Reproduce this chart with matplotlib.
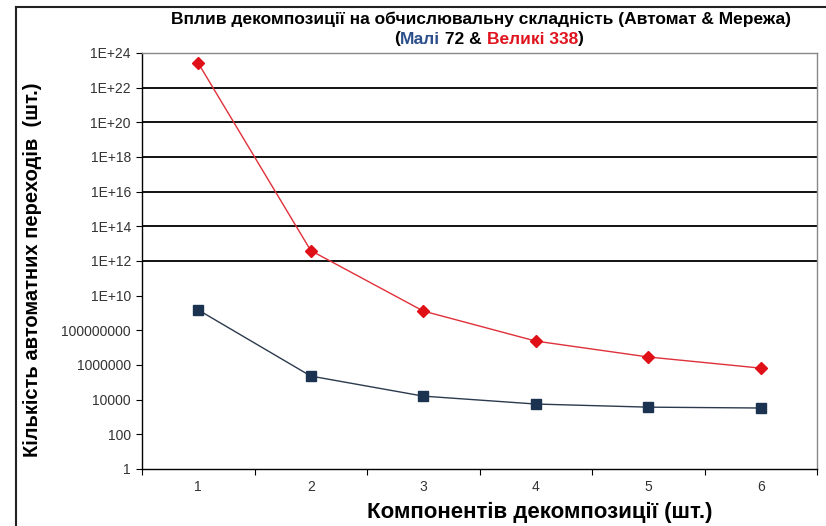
"""Decomposition vs computational complexity chart (log scale)"""

import numpy as np
import matplotlib.pyplot as plt
from matplotlib.lines import Line2D

# Data
components = [1, 2, 3, 4, 5, 6]
small_72 = [1.5e9, 2.3e5, 1.6e4, 5.6e3, 3.7e3, 3.3e3]
large_338 = [2.6e23, 4.0e12, 1.3e9, 2.4e7, 2.9e6, 6.6e5]
ytick_vals = [10.0 ** p for p in range(0, 25, 2)]
ytick_labels = ['1', '100', '10000', '1000000', '100000000',
                '1E+10', '1E+12', '1E+14', '1E+16', '1E+18',
                '1E+20', '1E+22', '1E+24']
grid_levels = [1e12, 1e14, 1e16, 1e18, 1e20, 1e22]

plt.rcParams['font.family'] = ['Liberation Sans', 'DejaVu Sans']

fig = plt.figure(figsize=(8.26, 5.26), dpi=100)
ax = fig.add_axes([142 / 826, 1 - 469 / 526, 675 / 826, 416 / 526])

ax.set_yscale('log')
ax.set_ylim(1, 1e24)
ax.set_xlim(0.5, 6.5)

# Horizontal gridlines (only the upper ones are drawn in the original)
for lvl in grid_levels:
    ax.axhline(lvl, color='#111111', lw=1.4, zorder=1)

ax.plot(components, small_72, color='#2b3a4e', lw=1.0, marker='s',
        ms=7, mfc='#1b3350', mec='#1b3350', zorder=3)
ax.plot(components, large_338, color='#e0303a', lw=1.0, marker='D',
        ms=6, mfc='#e01018', mec='#e01018', zorder=3)

ax.set_yticks(ytick_vals)
ax.set_yticklabels(ytick_labels, fontsize=10, color='#333333')
ax.minorticks_off()
ax.tick_params(axis='y', length=4, width=0.8, pad=4)

# category axis: ticks between categories, labels centred
ax.set_xticks(np.arange(0.5, 7.0, 1.0))
ax.set_xticklabels([])
ax.set_xticks(components, minor=True)
ax.set_xticklabels([str(c) for c in components], minor=True,
                   fontsize=10, color='#333333')
ax.tick_params(axis='x', which='major', length=4, width=0.8)
ax.tick_params(axis='x', which='minor', length=0, pad=8)

ax.spines['left'].set_color('black')
ax.spines['bottom'].set_color('black')
ax.spines['top'].set_color('#888888')
ax.spines['right'].set_color('#888888')
for s in ax.spines.values():
    s.set_linewidth(1.0)

# Titles
fig.text(481 / 826, 1 - 19 / 526,
         'Вплив декомпозиції на обчислювальну складність (Автомат & Мережа)',
         ha='center', va='center', fontsize=12.5, fontweight='bold')
parts = [('(', 'black'), ('Малі', '#2c4f8c'), (' 72 & ', 'black'),
         ('Великі 338', '#e0141e'), (')', 'black')]
fig.canvas.draw()
renderer = fig.canvas.get_renderer()
texts = []
total = 0
for s, c in parts:
    t = fig.text(0, 1 - 39 / 526, s, ha='left', va='center',
                 fontsize=12.5, fontweight='bold', color=c)
    w = t.get_window_extent(renderer=renderer).width
    texts.append((t, w))
    total += w
x0 = 489 - total / 2
for t, w in texts:
    t.set_x(x0 / 826)
    x0 += w

fig.text(540 / 826, 1 - 512 / 526, 'Компонентів декомпозиції (шт.)',
         ha='center', va='center', fontsize=16, fontweight='bold')
fig.text(33 / 826, 1 - 270 / 526, 'Кількість автоматних переходів  (шт.)',
         ha='center', va='center', rotation=90, fontsize=14.5,
         fontweight='bold')

# Outer frame lines (left and top) as in the screenshot
fig.add_artist(Line2D([16 / 826, 16 / 826], [0, 1 - 7 / 526],
                      transform=fig.transFigure, color='#222222', lw=1.5))
fig.add_artist(Line2D([16 / 826, 1], [1 - 7 / 526, 1 - 7 / 526],
                      transform=fig.transFigure, color='#222222', lw=1.5))

fig.savefig('out.png', dpi=100)
